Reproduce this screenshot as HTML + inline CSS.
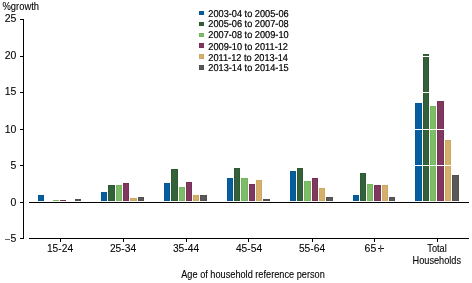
<!DOCTYPE html>
<html><head><meta charset="utf-8"><style>
html,body{margin:0;padding:0;background:#fff;}
body{width:472px;height:283px;overflow:hidden;}
svg{display:block;will-change:transform;font-family:"Liberation Sans",sans-serif;}
</style></head><body>
<svg width="472" height="283" viewBox="0 0 472 283">
<g shape-rendering="crispEdges">
<rect x="38" y="195" width="6" height="6" fill="#055895"/>
<rect x="39" y="196" width="4" height="4" fill="#065e9e"/>
<rect x="53" y="200" width="6" height="1" fill="#75b560"/>
<rect x="60" y="200" width="6" height="1" fill="#783058"/>
<rect x="75" y="199" width="6" height="2" fill="#505050"/>
<rect x="101" y="192" width="6" height="9" fill="#055895"/>
<rect x="102" y="193" width="4" height="7" fill="#065e9e"/>
<rect x="108" y="185" width="7" height="16" fill="#2d5934"/>
<rect x="109" y="186" width="5" height="14" fill="#33613a"/>
<rect x="116" y="185" width="6" height="16" fill="#75b560"/>
<rect x="117" y="186" width="4" height="14" fill="#7dbd68"/>
<rect x="123" y="183" width="6" height="18" fill="#783058"/>
<rect x="124" y="184" width="4" height="16" fill="#80385f"/>
<rect x="130" y="198" width="7" height="3" fill="#cca863"/>
<rect x="131" y="199" width="5" height="1" fill="#d4b06b"/>
<rect x="138" y="197" width="6" height="4" fill="#505050"/>
<rect x="139" y="198" width="4" height="2" fill="#595959"/>
<rect x="164" y="183" width="6" height="18" fill="#055895"/>
<rect x="165" y="184" width="4" height="16" fill="#065e9e"/>
<rect x="171" y="169" width="7" height="32" fill="#2d5934"/>
<rect x="172" y="170" width="5" height="30" fill="#33613a"/>
<rect x="179" y="187" width="6" height="14" fill="#75b560"/>
<rect x="180" y="188" width="4" height="12" fill="#7dbd68"/>
<rect x="186" y="182" width="6" height="19" fill="#783058"/>
<rect x="187" y="183" width="4" height="17" fill="#80385f"/>
<rect x="193" y="195" width="6" height="6" fill="#cca863"/>
<rect x="194" y="196" width="4" height="4" fill="#d4b06b"/>
<rect x="200" y="195" width="7" height="6" fill="#505050"/>
<rect x="201" y="196" width="5" height="4" fill="#595959"/>
<rect x="227" y="178" width="6" height="23" fill="#055895"/>
<rect x="228" y="179" width="4" height="21" fill="#065e9e"/>
<rect x="234" y="168" width="6" height="33" fill="#2d5934"/>
<rect x="235" y="169" width="4" height="31" fill="#33613a"/>
<rect x="241" y="178" width="7" height="23" fill="#75b560"/>
<rect x="242" y="179" width="5" height="21" fill="#7dbd68"/>
<rect x="249" y="184" width="6" height="17" fill="#783058"/>
<rect x="250" y="185" width="4" height="15" fill="#80385f"/>
<rect x="256" y="180" width="6" height="21" fill="#cca863"/>
<rect x="257" y="181" width="4" height="19" fill="#d4b06b"/>
<rect x="263" y="199" width="7" height="2" fill="#505050"/>
<rect x="290" y="171" width="6" height="30" fill="#055895"/>
<rect x="291" y="172" width="4" height="28" fill="#065e9e"/>
<rect x="297" y="168" width="6" height="33" fill="#2d5934"/>
<rect x="298" y="169" width="4" height="31" fill="#33613a"/>
<rect x="304" y="181" width="7" height="20" fill="#75b560"/>
<rect x="305" y="182" width="5" height="18" fill="#7dbd68"/>
<rect x="312" y="178" width="6" height="23" fill="#783058"/>
<rect x="313" y="179" width="4" height="21" fill="#80385f"/>
<rect x="319" y="188" width="6" height="13" fill="#cca863"/>
<rect x="320" y="189" width="4" height="11" fill="#d4b06b"/>
<rect x="326" y="197" width="7" height="4" fill="#505050"/>
<rect x="327" y="198" width="5" height="2" fill="#595959"/>
<rect x="353" y="195" width="6" height="6" fill="#055895"/>
<rect x="354" y="196" width="4" height="4" fill="#065e9e"/>
<rect x="360" y="173" width="6" height="28" fill="#2d5934"/>
<rect x="361" y="174" width="4" height="26" fill="#33613a"/>
<rect x="367" y="184" width="6" height="17" fill="#75b560"/>
<rect x="368" y="185" width="4" height="15" fill="#7dbd68"/>
<rect x="374" y="185" width="7" height="16" fill="#783058"/>
<rect x="375" y="186" width="5" height="14" fill="#80385f"/>
<rect x="382" y="185" width="6" height="16" fill="#cca863"/>
<rect x="383" y="186" width="4" height="14" fill="#d4b06b"/>
<rect x="389" y="197" width="6" height="4" fill="#505050"/>
<rect x="390" y="198" width="4" height="2" fill="#595959"/>
<rect x="415" y="103" width="7" height="98" fill="#055895"/>
<rect x="416" y="104" width="5" height="96" fill="#065e9e"/>
<rect x="423" y="54" width="6" height="147" fill="#2d5934"/>
<rect x="424" y="55" width="4" height="145" fill="#33613a"/>
<rect x="430" y="106" width="6" height="95" fill="#75b560"/>
<rect x="431" y="107" width="4" height="93" fill="#7dbd68"/>
<rect x="437" y="101" width="7" height="100" fill="#783058"/>
<rect x="438" y="102" width="5" height="98" fill="#80385f"/>
<rect x="445" y="140" width="6" height="61" fill="#cca863"/>
<rect x="446" y="141" width="4" height="59" fill="#d4b06b"/>
<rect x="452" y="175" width="7" height="26" fill="#505050"/>
<rect x="453" y="176" width="5" height="24" fill="#595959"/>
<rect x="28" y="56" width="441" height="1" fill="#fff"/>
<rect x="28" y="92" width="441" height="1" fill="#fff"/>
<rect x="28" y="129" width="441" height="1" fill="#fff"/>
<rect x="28" y="165" width="441" height="1" fill="#fff"/>
<rect x="23" y="19" width="1" height="220" fill="#000"/>
<rect x="20" y="19" width="3" height="1" fill="#000"/>
<rect x="20" y="56" width="3" height="1" fill="#000"/>
<rect x="20" y="92" width="3" height="1" fill="#000"/>
<rect x="20" y="129" width="3" height="1" fill="#000"/>
<rect x="20" y="165" width="3" height="1" fill="#000"/>
<rect x="20" y="202" width="3" height="1" fill="#000"/>
<rect x="20" y="238" width="3" height="1" fill="#000"/>
<rect x="29" y="202" width="440" height="1" fill="#000"/>
<rect x="29" y="238" width="440" height="1" fill="#000"/>
<rect x="60" y="239" width="1" height="3" fill="#000"/>
<rect x="123" y="239" width="1" height="3" fill="#000"/>
<rect x="186" y="239" width="1" height="3" fill="#000"/>
<rect x="248" y="239" width="1" height="3" fill="#000"/>
<rect x="312" y="239" width="1" height="3" fill="#000"/>
<rect x="374" y="239" width="1" height="3" fill="#000"/>
<rect x="437" y="239" width="1" height="3" fill="#000"/>
<rect x="199" y="11" width="5" height="4" fill="#055895"/>
<rect x="200" y="12" width="3" height="2" fill="#065e9e"/>
<rect x="199" y="22" width="5" height="4" fill="#2d5934"/>
<rect x="200" y="23" width="3" height="2" fill="#33613a"/>
<rect x="199" y="33" width="5" height="4" fill="#75b560"/>
<rect x="200" y="34" width="3" height="2" fill="#7dbd68"/>
<rect x="199" y="43" width="5" height="5" fill="#783058"/>
<rect x="200" y="44" width="3" height="3" fill="#80385f"/>
<rect x="199" y="54" width="5" height="5" fill="#cca863"/>
<rect x="200" y="55" width="3" height="3" fill="#d4b06b"/>
<rect x="199" y="65" width="5" height="5" fill="#505050"/>
<rect x="200" y="66" width="3" height="3" fill="#595959"/>
<rect x="5" y="239" width="5" height="1" fill="#666"/>
<rect x="378" y="248" width="6" height="1" fill="#111"/>
<rect x="380" y="245" width="1" height="7" fill="#666"/>
<rect x="381" y="245" width="1" height="3" fill="#ddd"/>
<rect x="381" y="249" width="1" height="3" fill="#ddd"/>
</g>
<g fill="#000" stroke="#000" stroke-width="0.1">
<text transform="translate(208.3,17) scale(0.92,1)" font-size="10" text-rendering="geometricPrecision" stroke-width="0.22">2003-04 to 2005-06</text>
<text transform="translate(208.3,27) scale(0.92,1)" font-size="10" text-rendering="geometricPrecision" stroke-width="0.22">2005-06 to 2007-08</text>
<text transform="translate(208.3,38) scale(0.92,1)" font-size="10" text-rendering="geometricPrecision" stroke-width="0.22">2007-08 to 2009-10</text>
<text transform="translate(208.3,50) scale(0.92,1)" font-size="10" text-rendering="geometricPrecision" stroke-width="0.22">2009-10 to 2011-12</text>
<text transform="translate(208.3,61) scale(0.92,1)" font-size="10" text-rendering="geometricPrecision" stroke-width="0.22">2011-12 to 2013-14</text>
<text transform="translate(208.3,71) scale(0.92,1)" font-size="10" text-rendering="geometricPrecision" stroke-width="0.22">2013-14 to 2014-15</text>
<text transform="translate(16.3,22.4) scale(0.92,1)" font-size="11.4" text-anchor="end">25</text>
<text transform="translate(16.3,59.4) scale(0.92,1)" font-size="11.4" text-anchor="end">20</text>
<text transform="translate(16.3,95.4) scale(0.92,1)" font-size="11.4" text-anchor="end">15</text>
<text transform="translate(16.3,133.4) scale(0.92,1)" font-size="11.4" text-anchor="end">10</text>
<text transform="translate(16.3,169.4) scale(0.92,1)" font-size="11.4" text-anchor="end">5</text>
<text transform="translate(16.3,206.4) scale(0.92,1)" font-size="11.4" text-anchor="end">0</text>
<text transform="translate(16.3,242.4) scale(0.92,1)" font-size="11.4" text-anchor="end">5</text>
<text transform="translate(60,252.2) scale(0.93,1)" font-size="11" text-anchor="middle">15-24</text>
<text transform="translate(123,252.2) scale(0.93,1)" font-size="11" text-anchor="middle">25-34</text>
<text transform="translate(186,252.2) scale(0.93,1)" font-size="11" text-anchor="middle">35-44</text>
<text transform="translate(249,252.2) scale(0.93,1)" font-size="11" text-anchor="middle">45-54</text>
<text transform="translate(312,252.2) scale(0.93,1)" font-size="11" text-anchor="middle">55-64</text>
<text transform="translate(364.6,252.2) scale(0.92,1)" font-size="11.4">65</text>
<text transform="translate(437,252) scale(0.92,1)" font-size="10" text-anchor="middle">Total</text>
<text transform="translate(436.8,264) scale(0.92,1)" font-size="10" text-anchor="middle">Households</text>
<text transform="translate(253,277.8) scale(0.92,1)" font-size="10" text-anchor="middle">Age of household reference person</text>
<text transform="translate(2.5,10.2) scale(0.94,1)" font-size="10">%growth</text>
</g>
</svg>
</body></html>
